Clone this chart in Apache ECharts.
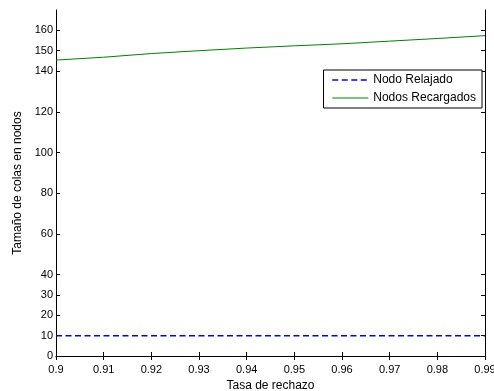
<!DOCTYPE html>
<html>
<head>
<meta charset="utf-8">
<script src="https://cdn.jsdelivr.net/npm/echarts@6/dist/echarts.min.js"></script>
<style>html,body{margin:0;padding:0;background:#fff}#c{width:494px;height:391px}</style>
</head>
<body>
<div id="c"></div>
<script>
const rates = [0.90, 0.91, 0.92, 0.93, 0.94, 0.95, 0.96, 0.97, 0.98, 0.99];
const relajado = [10, 10, 10, 10, 10, 10, 10, 10, 10, 10];
const recargados = [145.4, 146.8, 148.6, 150.0, 151.3, 152.4, 153.4, 154.7, 156.0, 157.4];
const yTicks = [0, 10, 20, 30, 40, 60, 80, 100, 120, 140, 150, 160];
const seriesNames = ['Nodo Relajado', 'Nodos Recargados'];

const font = 'Arial, "Liberation Sans", sans-serif';
const chart = echarts.init(document.getElementById('c'), null, {renderer: 'canvas'});
const axisLineStyle = {color: '#000', width: 1};
chart.setOption({
  animation: false,
  grid: {left: 56, right: 9, top: 10, bottom: 35, containLabel: false, outerBoundsMode: 'none'},
  legend: {
    data: seriesNames,
    orient: 'vertical',
    right: 12, top: 70,
    backgroundColor: '#fff',
    borderColor: '#000',
    borderWidth: 1,
    borderRadius: 0,
    padding: [4, 6, 4, 8],
    itemGap: 6,
    itemWidth: 36,
    itemHeight: 10,
    itemStyle: {opacity: 0},
    lineStyle: {width: 'inherit'},
    textStyle: {fontFamily: font, fontSize: 12, color: '#000'}
  },
  xAxis: [{
    type: 'value', min: 0.9, max: 0.99, interval: 0.01,
    name: 'Tasa de rechazo', nameLocation: 'middle', nameGap: 18,
    nameTextStyle: {fontFamily: font, fontSize: 12, color: '#000'},
    axisLine: {lineStyle: axisLineStyle},
    axisTick: {inside: true, length: 4, lineStyle: axisLineStyle},
    axisLabel: {fontFamily: font, fontSize: 11, color: '#000', margin: 8,
      formatter: v => String(Math.round(v * 100) / 100)},
    splitLine: {show: false}
  }, {
    type: 'value', position: 'top', min: 0.9, max: 0.99, interval: 0.01,
    axisLine: {lineStyle: axisLineStyle},
    axisTick: {inside: true, length: 4, lineStyle: axisLineStyle},
    axisLabel: {show: false}, splitLine: {show: false}
  }],
  yAxis: [{
    type: 'value', min: 0, max: 170,
    name: 'Tamaño de colas en nodos', nameLocation: 'middle', nameGap: 28,
    nameTextStyle: {fontFamily: font, fontSize: 12, color: '#000'},
    axisLine: {show: true, lineStyle: axisLineStyle},
    axisTick: {show: true, inside: true, length: 4, lineStyle: axisLineStyle, customValues: yTicks},
    axisLabel: {fontFamily: font, fontSize: 11, color: '#000', margin: 3, customValues: yTicks},
    splitLine: {show: false}
  }, {
    type: 'value', position: 'right', min: 0, max: 170,
    axisLine: {show: true, lineStyle: axisLineStyle},
    axisTick: {show: true, inside: true, length: 4, lineStyle: axisLineStyle, customValues: yTicks},
    axisLabel: {show: false, customValues: yTicks},
    splitLine: {show: false}
  }],
  series: [{
    name: seriesNames[0], type: 'line', symbol: 'none',
    data: rates.map((r, i) => [r, relajado[i]]),
    lineStyle: {color: '#0000ff', width: 1.5, type: [6, 3.5]},
    itemStyle: {color: '#0000ff'}
  }, {
    name: seriesNames[1], type: 'line', symbol: 'none',
    data: rates.map((r, i) => [r, recargados[i]]),
    lineStyle: {color: '#008000', width: 1},
    itemStyle: {color: '#008000'}
  }]
});
</script>
</body>
</html>
